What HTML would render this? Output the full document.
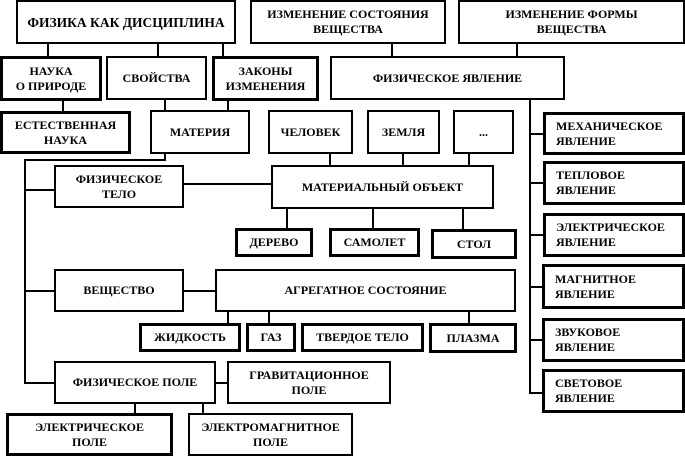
<!DOCTYPE html>
<html><head><meta charset="utf-8"><style>
body{margin:0;width:685px;height:456px;background:#fff;position:relative;overflow:hidden;font-family:"Liberation Serif","DejaVu Serif",serif;}
.b{position:absolute;box-sizing:border-box;border:2px solid #000;display:flex;align-items:center;justify-content:center;text-align:center;font-size:12px;font-weight:bold;line-height:15px;color:#000;background:#fff;}
.t{border-width:3px;}
.l{text-align:left;justify-content:flex-start;padding-left:10px;}
.h{position:absolute;background:#000;height:2px;}
.v{position:absolute;background:#000;width:2px;}
</style></head><body>
<div class="v" style="left:47px;top:43px;height:14px"></div>
<div class="v" style="left:157px;top:43px;height:14px"></div>
<div class="v" style="left:222px;top:43px;height:14px"></div>
<div class="v" style="left:62px;top:99px;height:13px"></div>
<div class="v" style="left:164px;top:99px;height:12px"></div>
<div class="v" style="left:227px;top:99px;height:12px"></div>
<div class="v" style="left:391px;top:43px;height:14px"></div>
<div class="v" style="left:516px;top:43px;height:14px"></div>
<div class="v" style="left:164px;top:153px;height:8px"></div>
<div class="h" style="left:24px;top:159px;width:142px"></div>
<div class="v" style="left:24px;top:159px;height:225px"></div>
<div class="h" style="left:24px;top:189px;width:31px"></div>
<div class="h" style="left:24px;top:290px;width:31px"></div>
<div class="h" style="left:24px;top:382px;width:31px"></div>
<div class="h" style="left:183px;top:183px;width:89px"></div>
<div class="v" style="left:329px;top:153px;height:13px"></div>
<div class="v" style="left:402px;top:153px;height:13px"></div>
<div class="v" style="left:468px;top:153px;height:13px"></div>
<div class="v" style="left:286px;top:207px;height:22px"></div>
<div class="v" style="left:372px;top:207px;height:22px"></div>
<div class="v" style="left:462px;top:207px;height:22px"></div>
<div class="h" style="left:183px;top:290px;width:33px"></div>
<div class="v" style="left:227px;top:310px;height:14px"></div>
<div class="v" style="left:268px;top:310px;height:14px"></div>
<div class="v" style="left:468px;top:310px;height:14px"></div>
<div class="h" style="left:215px;top:382px;width:13px"></div>
<div class="v" style="left:134px;top:402px;height:12px"></div>
<div class="v" style="left:202px;top:402px;height:12px"></div>
<div class="v" style="left:529px;top:100px;height:294px"></div>
<div class="h" style="left:529px;top:133px;width:15px"></div>
<div class="h" style="left:529px;top:182px;width:15px"></div>
<div class="h" style="left:529px;top:234px;width:15px"></div>
<div class="h" style="left:529px;top:286px;width:15px"></div>
<div class="h" style="left:529px;top:339px;width:15px"></div>
<div class="h" style="left:529px;top:392px;width:15px"></div>
<div class="b" style="left:16px;top:0;width:220px;height:44px;font-size:13.5px">ФИЗИКА КАК ДИСЦИПЛИНА</div>
<div class="b" style="left:250px;top:0;width:196px;height:44px">ИЗМЕНЕНИЕ СОСТОЯНИЯ<br>ВЕЩЕСТВА</div>
<div class="b" style="left:458px;top:0;width:227px;height:44px">ИЗМЕНЕНИЕ ФОРМЫ<br>ВЕЩЕСТВА</div>
<div class="b t" style="left:0;top:56px;width:102px;height:45px">НАУКА<br>О ПРИРОДЕ</div>
<div class="b" style="left:106px;top:56px;width:101px;height:44px">СВОЙСТВА</div>
<div class="b t" style="left:212px;top:56px;width:107px;height:45px">ЗАКОНЫ<br>ИЗМЕНЕНИЯ</div>
<div class="b" style="left:330px;top:56px;width:235px;height:44px">ФИЗИЧЕСКОЕ ЯВЛЕНИЕ</div>
<div class="b t" style="left:0;top:111px;width:131px;height:43px">ЕСТЕСТВЕННАЯ<br>НАУКА</div>
<div class="b" style="left:150px;top:110px;width:100px;height:44px">МАТЕРИЯ</div>
<div class="b" style="left:268px;top:110px;width:85px;height:44px">ЧЕЛОВЕК</div>
<div class="b" style="left:367px;top:110px;width:73px;height:44px">ЗЕМЛЯ</div>
<div class="b" style="left:453px;top:110px;width:61px;height:44px">...</div>
<div class="b" style="left:54px;top:165px;width:130px;height:43px">ФИЗИЧЕСКОЕ<br>ТЕЛО</div>
<div class="b" style="left:271px;top:165px;width:223px;height:44px">МАТЕРИАЛЬНЫЙ ОБЪЕКТ</div>
<div class="b t" style="left:235px;top:228px;width:78px;height:29px">ДЕРЕВО</div>
<div class="b t" style="left:329px;top:228px;width:91px;height:29px">САМОЛЕТ</div>
<div class="b t" style="left:431px;top:229px;width:86px;height:30px">СТОЛ</div>
<div class="b" style="left:54px;top:269px;width:130px;height:43px">ВЕЩЕСТВО</div>
<div class="b" style="left:215px;top:269px;width:301px;height:43px">АГРЕГАТНОЕ СОСТОЯНИЕ</div>
<div class="b t" style="left:139px;top:323px;width:102px;height:29px">ЖИДКОСТЬ</div>
<div class="b t" style="left:246px;top:323px;width:50px;height:29px">ГАЗ</div>
<div class="b t" style="left:301px;top:323px;width:123px;height:29px">ТВЕРДОЕ ТЕЛО</div>
<div class="b t" style="left:429px;top:323px;width:88px;height:30px">ПЛАЗМА</div>
<div class="b" style="left:54px;top:361px;width:162px;height:43px">ФИЗИЧЕСКОЕ ПОЛЕ</div>
<div class="b" style="left:227px;top:361px;width:164px;height:43px">ГРАВИТАЦИОННОЕ<br>ПОЛЕ</div>
<div class="b t" style="left:6px;top:413px;width:167px;height:43px">ЭЛЕКТРИЧЕСКОЕ<br>ПОЛЕ</div>
<div class="b" style="left:188px;top:413px;width:165px;height:43px">ЭЛЕКТРОМАГНИТНОЕ<br>ПОЛЕ</div>
<div class="b t l" style="left:543px;top:112px;width:142px;height:43px">МЕХАНИЧЕСКОЕ<br>ЯВЛЕНИЕ</div>
<div class="b t l" style="left:543px;top:161px;width:142px;height:44px">ТЕПЛОВОЕ<br>ЯВЛЕНИЕ</div>
<div class="b t l" style="left:543px;top:213px;width:142px;height:44px">ЭЛЕКТРИЧЕСКОЕ<br>ЯВЛЕНИЕ</div>
<div class="b t l" style="left:542px;top:264px;width:143px;height:45px">МАГНИТНОЕ<br>ЯВЛЕНИЕ</div>
<div class="b t l" style="left:542px;top:318px;width:143px;height:44px">ЗВУКОВОЕ<br>ЯВЛЕНИЕ</div>
<div class="b t l" style="left:542px;top:369px;width:143px;height:44px">СВЕТОВОЕ<br>ЯВЛЕНИЕ</div>
</body></html>
